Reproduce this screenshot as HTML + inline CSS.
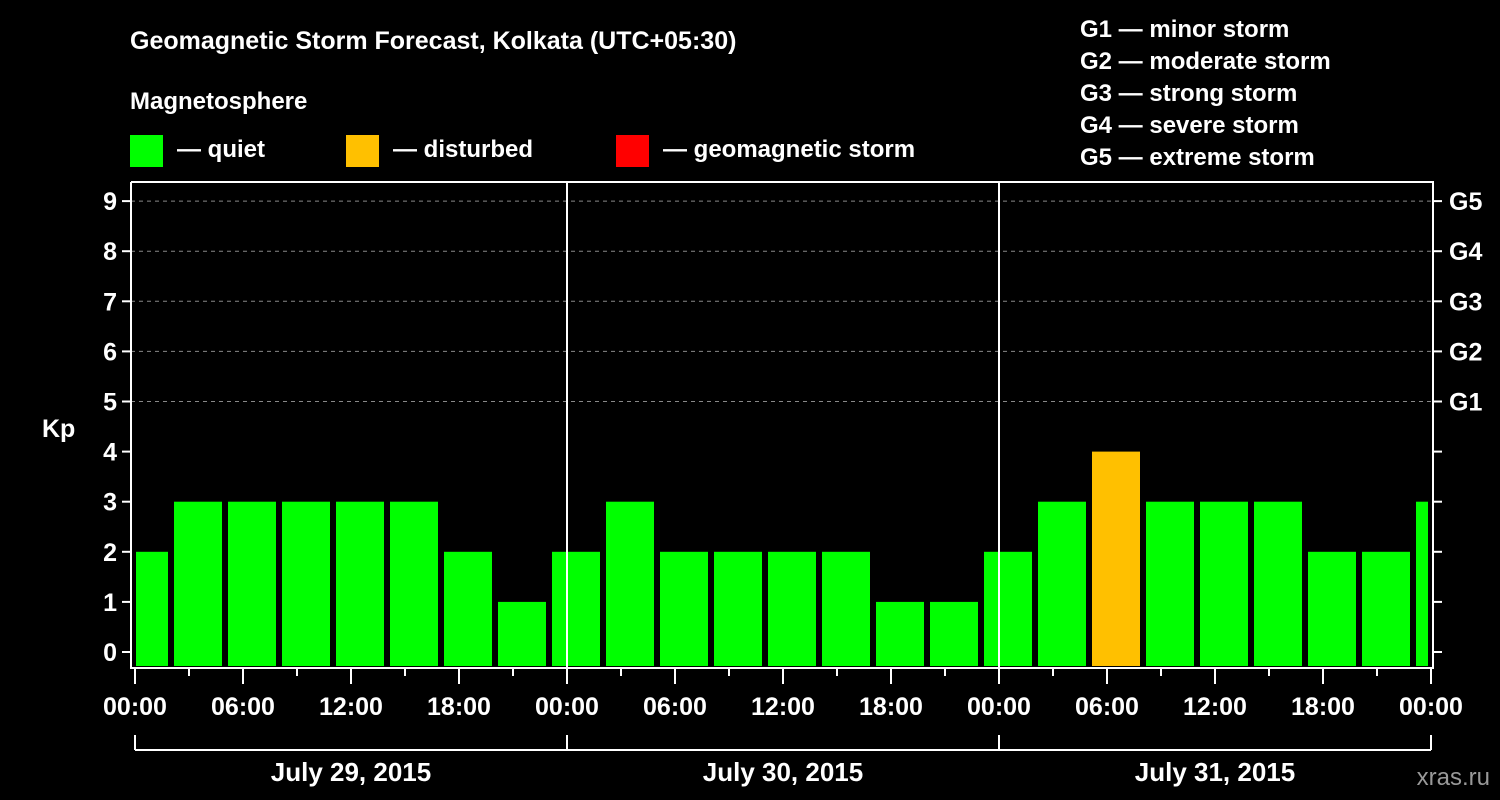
<!DOCTYPE html>
<html><head><meta charset="utf-8"><style>
body{margin:0;background:#000;}
svg{display:block;font-family:"Liberation Sans",sans-serif;font-weight:bold;}
</style></head><body>
<svg id="chart" width="1500" height="800">
<rect x="0" y="0" width="1500" height="800" fill="#000"/>
<text x="130" y="49" fill="#fff" font-size="25">Geomagnetic Storm Forecast, Kolkata (UTC+05:30)</text>
<text x="130" y="109" fill="#fff" font-size="24">Magnetosphere</text>
<g><rect x="130" y="135" width="33" height="32" fill="#00ff00"/><text x="177" y="157" fill="#fff" font-size="24">— quiet</text></g>
<g><rect x="346" y="135" width="33" height="32" fill="#ffc000"/><text x="393" y="157" fill="#fff" font-size="24">— disturbed</text></g>
<g><rect x="616" y="135" width="33" height="32" fill="#ff0000"/><text x="663" y="157" fill="#fff" font-size="24">— geomagnetic storm</text></g>
<g fill="#fff" font-size="24">
<text x="1080" y="37">G1 — minor storm</text>
<text x="1080" y="69">G2 — moderate storm</text>
<text x="1080" y="101">G3 — strong storm</text>
<text x="1080" y="133">G4 — severe storm</text>
<text x="1080" y="165">G5 — extreme storm</text>
</g>
<text x="42" y="437" fill="#fff" font-size="25">Kp</text>
<text x="1490" y="785" fill="#999" font-size="24" text-anchor="end" font-weight="normal">xras.ru</text>
<g id="plot"></g>
</svg>
<script>
const kpValues=[2,3,3,3,3,3,2,1,2,3,2,2,2,2,1,1,2,3,4,3,3,3,2,2,3];
const yTicks=[0,1,2,3,4,5,6,7,8,9];
const gLabels=["G1","G2","G3","G4","G5"];
const xTickLabels=["00:00","06:00","12:00","18:00","00:00","06:00","12:00","18:00","00:00","06:00","12:00","18:00","00:00"];
const dayLabels=["July 29, 2015","July 30, 2015","July 31, 2015"];

const NS="http://www.w3.org/2000/svg";
const g=document.getElementById('plot');
const X0=135,PXH=18,L=131,R=1433,T=182,B=668,CLIPL=136,CLIPR=1428;
const x=h=>X0+h*PXH;
const y=v=>652-v*50.1;
function el(t,a){const e=document.createElementNS(NS,t);for(const k in a)e.setAttribute(k,a[k]);g.appendChild(e);return e;}
// grid
for(let v=5;v<=9;v++){const e=el('line',{x1:L,x2:R,y1:y(v),y2:y(v),stroke:'#888','stroke-dasharray':'4,4','stroke-width':1});

}
// bars: slot k starts at hour 2 + 3*(k-1)
kpValues.forEach((v,i)=>{
 let s=x(2+3*(i-1))+3,e=s+48;
 s=Math.max(s,CLIPL);e=Math.min(e,CLIPR);
 if(e<=s)return;
 const col=v>=5?'#ff0000':(v>=4?'#ffc000':'#00ff00');
 const r=el('rect',{x:s,y:y(v),width:e-s,height:666-y(v),fill:col});
 
 
});
// day separators
[1,2].forEach(d=>{const e=el('line',{x1:x(24*d),x2:x(24*d),y1:T,y2:B,stroke:'#fff','stroke-width':2});

});
// frame
const f=el('path',{d:`M${L},${T}V${B}H${R}V${T}H${L}`,fill:'none',stroke:'#fff','stroke-width':2});


// y ticks
yTicks.forEach(v=>{
 el('line',{x1:L-9,x2:L,y1:y(v),y2:y(v),stroke:'#fff','stroke-width':2});
 el('line',{x1:R,x2:R+9,y1:y(v),y2:y(v),stroke:'#fff','stroke-width':2});
 const t=el('text',{x:L-14,y:y(v)+9,fill:'#fff','font-size':25,'text-anchor':'end'});t.textContent=v;
 
 
});
gLabels.forEach((s,i)=>{const t=el('text',{x:1449,y:y(5+i)+9,fill:'#fff','font-size':25});t.textContent=s;

});
// x ticks
for(let h=0;h<=72;h+=3){const major=h%6===0;el('line',{x1:x(h),x2:x(h),y1:B,y2:B+(major?16:8),stroke:'#fff','stroke-width':2});}
xTickLabels.forEach((s,i)=>{const t=el('text',{x:x(6*i),y:715,fill:'#fff','font-size':25,'text-anchor':'middle'});t.textContent=s;

});
// day brackets
el('line',{x1:x(0),x2:x(72),y1:750,y2:750,stroke:'#fff','stroke-width':2});
for(let d=0;d<=3;d++)el('line',{x1:x(24*d),x2:x(24*d),y1:735,y2:750,stroke:'#fff','stroke-width':2});
dayLabels.forEach((s,i)=>{const t=el('text',{x:x(24*i+12),y:781,fill:'#fff','font-size':26,'text-anchor':'middle'});t.textContent=s;

});
</script>
</body></html>
